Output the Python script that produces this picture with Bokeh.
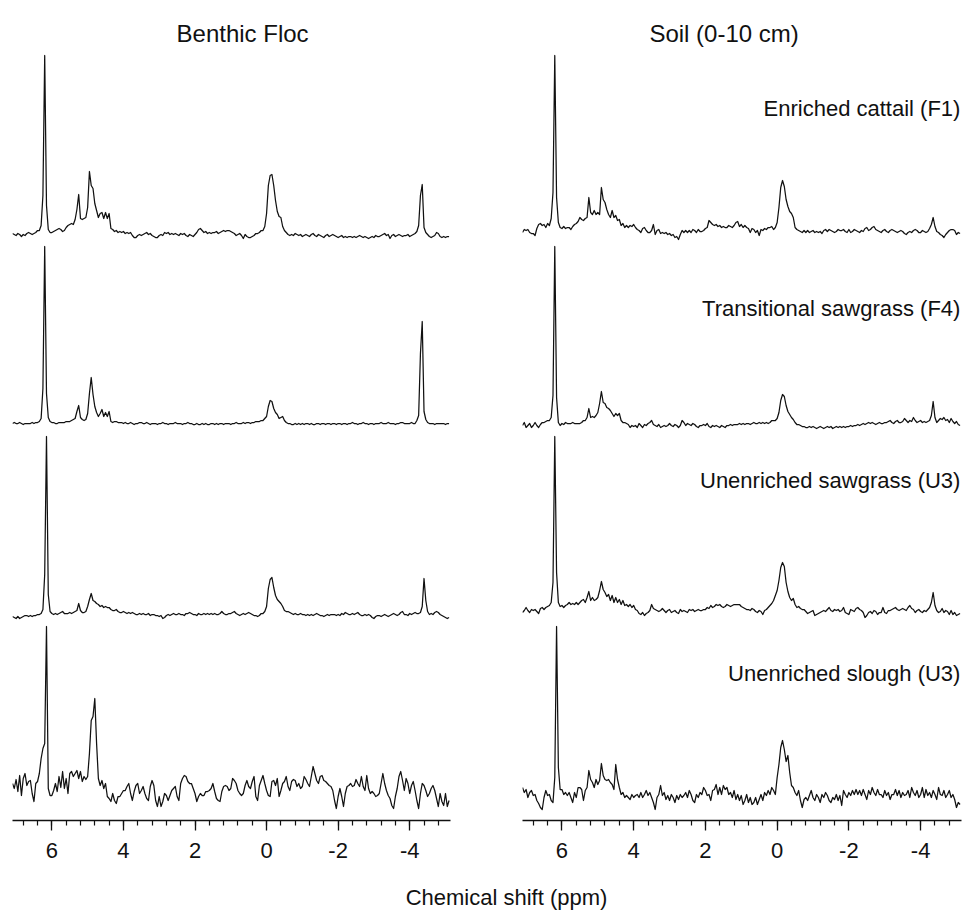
from bokeh.plotting import figure
from bokeh.layouts import row, column
from bokeh.models import Range1d, FixedTicker, Label
from bokeh.embed import file_html
from bokeh.resources import INLINE

# ---------------- data ----------------
N = 245
PPM = [round(7.10 - 0.05 * i, 2) for i in range(N)]   # sampled chemical shift axis (ppm)

TICKS = [6, 4, 2, 0, -2, -4]
TICK_LABELS = ["6", "4", "2", "0", "-2", "-4"]
MINOR_TICKS = [6.8, 6.4, 6.0, 5.6, 5.2, 4.8, 4.4, 4.0, 3.6, 3.2, 2.8, 2.4, 2.0, 1.6, 1.2,
               0.8, 0.4, 0.0, -0.4, -0.8, -1.2, -1.6, -2.0, -2.4, -2.8, -3.2, -3.6, -4.0,
               -4.4, -4.8]

COLUMN_TITLES = ["Benthic Floc", "Soil (0-10 cm)"]
SITE_LABELS = ["Enriched cattail (F1)", "Transitional sawgrass (F4)",
               "Unenriched sawgrass (U3)", "Unenriched slough (U3)"]
X_LABEL = "Chemical shift (ppm)"

# intensities (a.u.), one value per PPM sample, 7.10 -> -5.10 ppm
FLOC_F1 = [
    2, 1, 0, 2, 1, -1, 1, 0, 2, 3, 2, 1, 2, 3, 5, 5, 10, 40, 180, 30,
    6, 3, 3, 4, 5, 6, 7, 6, 4, 5, 8, 10, 11, 12, 11, 16, 26, 41, 17, 16,
    17, 18, 28, 64, 50, 47, 32, 25, 18, 22, 23, 17, 23, 17, 22, 7, 6, 4, 5, 3,
    4, 3, 4, 2, 3, 2, 3, 0, -2, -2, 0, 1, 0, 1, 2, 3, 1, 2, 0, -1,
    -2, -2, 0, 1, 0, 3, 2, 3, 1, 2, 1, 2, 1, 0, 2, 1, 2, 0, -1, 1,
    0, -1, 1, 3, 6, 7, 5, 3, 4, 2, 3, 2, 3, 3, 4, 2, 3, 4, 5, 4,
    5, 5, 4, 3, 2, 0, 1, 2, 0, -3, 1, -1, -2, -2, -1, 0, 2, 2, 3, 5,
    5, 9, 22, 50, 60, 61, 50, 35, 24, 19, 18, 9, 5, 3, 1, 0, 1, 0, 2, 1,
    0, 1, -1, 0, 1, 0, -1, 1, 2, 0, -1, 1, 0, -1, -2, 0, 1, -1, 0, 1,
    0, -1, -2, -1, 0, -2, -1, -2, -1, -1, -2, -1, -2, -1, 0, -1, -2, -1, -2, -3,
    -2, -1, -2, 0, -1, -1, 0, 1, 2, 0, 1, -3, 0, 1, -1, 0, 1, 0, -1, 0,
    0, 1, -1, 0, 1, 2, 4, 10, 40, 51, 8, 3, 1, -1, -2, -1, 0, 3, 2, -1,
    -2, -1, -2, -1, -1]

FLOC_F4 = [
    0, 1, 0, 0, 1, 0, -1, 0, 0, 0, 0, 1, 0, 1, 1, 2, 5, 35, 177, 30,
    6, 2, 1, 1, 0, 0, 1, 1, 1, 1, 2, 2, 2, 3, 4, 5, 12, 18, 6, 4,
    3, 4, 10, 30, 46, 29, 17, 11, 7, 10, 14, 7, 11, 7, 12, 2, 1, 2, 2, 1,
    1, 1, 0, 1, 0, 0, 1, 0, -1, 0, 0, 1, 1, 0, 0, 1, 0, -1, 0, 0,
    0, -1, 0, 0, 1, 0, 0, -1, 0, 0, 0, 1, 0, 0, 0, -1, 0, 0, 1, 0,
    0, -1, -1, 0, -1, -1, 0, -1, 0, -1, -1, 0, 0, -1, 0, -1, 0, 0, -1, 0,
    0, 0, -1, 0, 0, 1, 0, 0, 0, 1, 0, 1, 1, 0, 1, 1, 2, 2, 2, 3,
    3, 5, 7, 17, 23, 22, 15, 11, 9, 5, 6, 7, 3, 1, 0, 0, -1, -1, 0, -1,
    0, -1, 0, -1, 0, 0, -1, 0, -1, -1, 0, 0, -1, 0, 0, -1, 0, 0, -1, 0,
    0, -1, 0, 0, -1, 0, 0, -1, 0, 0, 1, 0, 0, -1, 0, 0, 1, 0, 0, -1,
    0, 0, -1, 0, 0, 0, 1, 0, 0, 0, 1, 0, 0, 0, -1, 0, 0, 1, 1, 0,
    0, 0, 0, 1, 0, 0, 3, 8, 70, 102, 12, 4, 1, 0, 0, 0, -1, 0, 0, 0,
    0, 0, -1, 0, 0]

FLOC_U3 = [
    -2, -3, -4, -2, -4, -3, -2, -1, -1, -2, -1, -2, -1, -1, 0, 0, 1, 5, 40, 178,
    20, 3, 1, 0, 1, 0, 1, 2, 3, 1, 1, 1, 2, 1, 2, 3, 4, 11, 4, 2,
    2, 3, 8, 15, 21, 14, 13, 11, 10, 8, 9, 7, 8, 7, 7, 5, 4, 4, 5, 3,
    2, 2, 3, 2, 1, 2, 1, 2, 1, 0, 0, 1, 0, 1, 0, 0, 1, -1, 0, 0,
    -1, -1, -2, -1, -4, -3, -1, 0, -1, 0, 1, 0, 0, 1, 0, 0, -1, 1, 1, 2,
    1, 0, 0, -1, 1, 0, 0, 1, 0, 1, 0, 1, 0, 1, 0, 0, 1, 3, 1, 0,
    0, 1, 1, 2, 3, 1, 0, -1, 0, 1, 0, 1, 2, 1, 0, -1, -1, -2, -1, 1,
    1, 3, 8, 26, 35, 37, 27, 19, 15, 13, 11, 8, 4, 3, 3, 2, 1, 0, 1, 0,
    0, 1, 0, 0, -1, 0, -1, 0, -1, 0, 1, 0, -1, -1, -2, -1, 0, -1, 0, 0,
    0, -1, 0, -1, 1, 0, 2, 1, 0, 0, 1, 0, 1, 2, 0, -1, -1, 0, -1, 0,
    -1, -3, -4, -2, -1, -1, -2, -1, 0, -1, -2, -1, 0, 1, 0, -1, 0, 2, 3, 0,
    0, -1, 1, 0, 1, 2, 1, 1, 2, 8, 36, 14, 3, 0, 1, 0, 2, 3, 2, 0,
    -1, -2, -3, -4, -3]

FLOC_SLOUGH = [
    10, 5, 14, 2, 18, -2, 15, 20, 8, 12, 13, 0, -8, 10, 12, 20, 35, 45, 50, 167,
    5, -2, -2, 3, 10, 2, 17, 6, 22, 5, 15, 0, 20, 22, 17, 20, 23, 15, 22, 12,
    17, 14, 17, 40, 73, 77, 95, 50, 15, 8, 13, 5, 10, -3, -5, -8, 0, -7, -10, -3,
    -3, 0, 3, 3, 7, 10, 0, -7, 2, 8, 10, 0, 3, 7, 0, -5, -7, 7, 13, 8,
    -7, -13, -3, -13, -8, 0, -2, -7, -2, 3, 5, 7, -3, -7, 10, 15, 18, 17, 12, 10,
    10, 5, 0, -8, -3, 0, -2, -2, 2, 2, 3, 5, 10, 2, -5, -7, -8, 2, 7, 8,
    7, 3, 5, 15, 13, 10, 3, 0, -2, 0, 8, 13, 7, 5, 12, 17, -3, -7, 8, 13,
    18, 10, 3, -2, -3, 12, 13, 8, 15, -3, 3, 10, 12, 17, 7, 3, 12, 14, 13, 7,
    10, 5, 7, 17, 14, 10, 7, 17, 27, 20, 13, 10, 17, 18, 13, 12, 10, 8, 7, 3,
    -7, -15, -3, 5, -3, -13, 0, 7, 8, 10, 7, 8, 14, 10, 7, 17, 7, 3, 18, 5,
    0, 2, 0, -3, -2, 0, 10, 20, 10, 3, -2, -5, -12, -15, -3, 5, 17, 22, 13, 3,
    15, 10, 0, 8, 12, 3, -7, -15, 0, 10, 8, 3, -3, 0, 5, 8, 3, -5, -13, 0,
    -8, -12, 0, -13, -7]

SOIL_F1 = [
    0, 3, 2, 3, 0, -1, -1, -3, 4, 8, 9, 7, 8, 5, 9, 7, 14, 40, 177, 35,
    10, 5, 4, 6, 4, 5, 5, 3, 6, 8, 9, 11, 15, 13, 12, 14, 15, 35, 20, 18,
    22, 18, 20, 18, 45, 33, 30, 23, 18, 15, 22, 15, 17, 12, 13, 7, 9, 5, 7, 5,
    7, 6, 8, 5, 3, 2, 0, 4, 5, 2, 0, 0, 2, 8, -2, 2, 3, -1, 0, -1,
    0, -2, -1, -3, -2, -5, -4, -7, -2, 2, 0, 2, 0, 2, 0, 3, 2, 0, 3, 1,
    1, 2, 4, 5, 12, 10, 8, 7, 8, 6, 7, 5, 6, 5, 5, 7, 6, 5, 7, 10,
    11, 6, 8, 5, 7, 5, 4, 0, 4, 3, 0, 2, -3, 3, 2, 4, 3, 5, 5, 6,
    3, 5, 10, 25, 45, 52, 46, 33, 26, 21, 19, 15, 5, 3, 2, 1, 0, 2, 0, 2,
    0, 1, 2, 0, 1, 0, 1, -1, 2, 3, 1, 3, 2, 1, 0, 1, 3, 2, 2, 3,
    1, 0, 3, 0, 1, 3, 2, 1, 0, 2, 1, 4, 5, 2, 3, 5, 6, 3, 2, 1,
    0, 2, 3, 1, 0, 2, 3, 2, 1, 0, 1, 2, 1, -1, -2, 0, 1, 0, 2, 3,
    2, 0, 0, 2, 1, 0, 1, 4, 8, 15, 6, 1, 0, -2, -3, -5, -2, 0, 2, 3,
    3, 2, -2, 0, -1]

SOIL_F4 = [
    0, 3, -2, 0, 2, -2, 0, 3, 0, -2, 1, 3, 3, 4, 5, 5, 8, 30, 179, 28,
    3, 0, 2, 1, 3, 2, 2, 2, 3, 2, 2, 2, 2, 3, 5, 5, 8, 17, 8, 9,
    8, 10, 13, 22, 34, 23, 22, 18, 17, 15, 12, 9, 12, 10, 12, 5, 3, 3, 2, 1,
    -2, 0, -1, 0, -2, 2, 0, -2, 1, 0, 2, 3, 5, 1, 0, -1, 1, -2, -1, 0,
    -1, 0, 2, 0, -1, 1, 0, -2, 0, 5, 3, 0, 2, 1, 0, 2, 1, -1, -2, 0,
    0, 1, 0, 2, -1, -2, 0, -1, 0, -1, -2, 0, -1, -2, 0, 0, 1, 0, 1, 1,
    1, 2, 1, 2, 1, 2, 2, 1, 2, 3, 2, 2, 3, 2, 3, 2, 3, 2, 3, 5,
    5, 5, 7, 13, 25, 31, 29, 20, 14, 11, 8, 6, 3, 1, 1, 0, -1, -1, -2, -2,
    -1, -2, -1, -2, -3, -2, -1, -2, -3, -2, -1, -2, -1, -3, -2, -1, -2, -1, -2, -1,
    -2, -1, -1, 0, -1, 0, 0, 1, 0, 1, 2, 1, 2, 3, 2, 3, 2, 1, 2, 3,
    2, 2, 3, 3, 4, 5, 3, 2, 4, 5, 3, 3, 4, 7, 5, 3, 5, 4, 8, 5,
    3, 4, 5, 3, 4, 3, 4, 5, 10, 24, 8, 3, 5, 7, 6, 8, 5, 6, 3, 7,
    4, 2, 4, 1, 0]

SOIL_U3 = [
    0, 2, 5, 2, 0, 3, 2, 3, 1, -1, 4, 5, 3, 5, 6, 7, 10, 30, 176, 40,
    10, 6, 7, 5, 7, 8, 10, 8, 9, 8, 10, 8, 10, 12, 13, 10, 15, 21, 12, 15,
    12, 13, 15, 22, 31, 23, 20, 16, 18, 12, 17, 10, 15, 10, 13, 8, 12, 7, 8, 6,
    8, 5, 7, 3, 2, -1, -2, 0, -3, -1, 0, 2, 8, 4, 3, 2, 1, 2, 4, 2,
    0, 2, 3, 0, 1, 2, 0, -1, 3, 1, 2, 1, 0, 3, 2, 3, 1, 2, 3, 2,
    2, 3, 3, 5, 4, 7, 5, 6, 8, 7, 8, 6, 5, 6, 8, 7, 6, 7, 8, 8,
    8, 8, 6, 5, 4, 3, 3, 2, 4, 3, 1, 0, 2, 1, -2, 2, 3, 5, 7, 9,
    12, 17, 22, 32, 45, 50, 46, 30, 21, 15, 12, 14, 8, 5, 6, 4, 3, 3, 1, -1,
    0, 1, 2, -3, -2, -1, 0, 1, 2, 1, 3, 5, 2, 1, 3, 2, 3, 1, 2, 5,
    0, -1, -2, 3, 2, 1, 4, 5, 3, 2, 0, -5, -3, 0, 1, -1, 2, 1, -2, 0,
    0, 5, 0, -1, 2, 2, 3, 4, 5, 3, 2, 3, 4, 3, 2, 5, 7, 4, 3, 0,
    2, 3, 1, 0, 2, 1, 3, 5, 10, 20, 7, 2, 0, 1, 4, 0, 2, 1, -2, 2,
    -2, 0, -3, -2, -1]

SOIL_SLOUGH = [
    10, 5, 8, 0, 5, 7, 2, 3, -3, -6, -10, -12, 0, 7, 2, 3, -3, -5, 20, 171,
    30, 8, 8, 3, 5, 2, 5, 0, -5, 5, 0, 10, 10, 8, -3, 7, 10, 27, 18, 15,
    10, 18, 13, 17, 34, 22, 18, 17, 18, 15, 13, 8, 33, 18, 10, 3, 5, 0, 2, 0,
    -2, 3, 0, 2, 3, 0, 5, 0, 3, 7, 2, 5, 0, -5, -12, 0, 3, 12, 2, 5,
    -2, 2, -3, 3, 0, -5, 2, -2, 3, 0, 2, 5, 0, 7, 3, -3, -5, 3, 0, 5,
    3, 10, 7, 2, 3, -3, 7, 8, 13, 3, 10, 3, 12, 8, 10, 3, 5, 0, 7, -2,
    3, -3, 2, -7, -3, 3, -5, 0, -7, -5, 0, -7, -2, 3, -3, 5, 2, 7, 3, 10,
    7, 3, 20, 33, 50, 57, 48, 36, 42, 25, 12, 10, 5, 2, 7, -3, -10, -2, 0, -3,
    2, 7, 0, -3, 3, 0, -5, 3, 0, 5, 2, -3, -5, 0, -2, 3, -3, 2, -8, 7,
    3, 0, 5, 2, 7, 3, 8, 3, 7, 2, 8, 3, -2, 7, 3, 10, 5, 2, 8, 3,
    3, 0, 7, 2, 5, -2, 3, 3, 8, 2, 7, 0, 5, 2, 3, 7, 0, 10, 5, 2,
    7, 0, 3, 10, 0, 8, 2, 5, 0, 7, 3, -2, 10, 3, 2, 7, 0, 3, 7, 0,
    3, -2, -10, -5, -7]

FLOC_SPECTRA = [FLOC_F1, FLOC_F4, FLOC_U3, FLOC_SLOUGH]
SOIL_SPECTRA = [SOIL_F1, SOIL_F4, SOIL_U3, SOIL_SLOUGH]

# ---------------- layout / style ----------------
FONT = "Liberation Sans"
INK = "#111111"
FRAME_H = 820
BOTTOM_BORDER = 52
LABEL_FIG_H = 41
FLOC_BASES = [585, 397, 206, 27]       # vertical stacking offsets of each trace
SOIL_BASES = [588, 395, 208, 23]
SITE_LABEL_Y = [712, 512, 340, 147]


def make_panel(spectra, bases, title, title_x, labels, frame_w, b_left, b_right):
    p = figure(frame_width=frame_w, frame_height=FRAME_H,
               min_border_left=b_left, min_border_right=b_right,
               min_border_top=0, min_border_bottom=BOTTOM_BORDER,
               x_range=Range1d(7.1, -5.14), y_range=Range1d(0, FRAME_H),
               y_axis_location=None, toolbar_location=None,
               output_backend="svg")
    p.outline_line_color = None
    p.grid.visible = False
    p.background_fill_color = "white"
    p.border_fill_color = "white"

    ax = p.xaxis[0]
    ax.ticker = FixedTicker(ticks=TICKS, minor_ticks=MINOR_TICKS)
    ax.major_label_overrides = {t: s for t, s in zip(TICKS, TICK_LABELS)}
    ax.axis_line_color = INK
    ax.axis_line_width = 1.3
    ax.major_tick_line_color = INK
    ax.major_tick_line_width = 1.3
    ax.minor_tick_line_color = INK
    ax.minor_tick_line_width = 1.2
    ax.major_tick_in = 0
    ax.major_tick_out = 10
    ax.minor_tick_in = 0
    ax.minor_tick_out = 5
    ax.major_label_standoff = 12
    ax.major_label_text_font = FONT
    ax.major_label_text_font_size = "22px"
    ax.major_label_text_color = INK

    bad = []
    for vals, base in zip(spectra, bases):
        n = min(len(vals), N)
        if len(vals) != N:
            bad.append(len(vals))
        ys = [base + v for v in vals[:n]]
        p.line(PPM[:n], ys, line_color=INK, line_width=1.25, line_join="round")

    p.add_layout(Label(x=title_x, y=787, text=title, text_align="center",
                       text_baseline="alphabetic", text_font=FONT,
                       text_font_size="24px", text_color=INK))
    if labels:
        for lab, ly in zip(labels, SITE_LABEL_Y):
            p.add_layout(Label(x=-5.11, y=ly, text=lab, text_align="right",
                               text_baseline="alphabetic", text_font=FONT,
                               text_font_size="22px", text_color=INK))
    if bad:
        p.add_layout(Label(x=3, y=500, text="LEN " + str(bad), text_color="red"))
    return p


left = make_panel(FLOC_SPECTRA, FLOC_BASES, COLUMN_TITLES[0], 0.67, None, 438, 12, 36)
right = make_panel(SOIL_SPECTRA, SOIL_BASES, COLUMN_TITLES[1], 1.48, SITE_LABELS, 439, 36, 7)

lab = figure(width=968, height=LABEL_FIG_H, x_range=Range1d(0, 968),
             y_range=Range1d(0, LABEL_FIG_H),
             x_axis_location=None, y_axis_location=None, toolbar_location=None,
             min_border=0, output_backend="svg")
lab.outline_line_color = None
lab.grid.visible = False
lab.add_layout(Label(x=506, y=16, text=X_LABEL, text_align="center",
                     text_baseline="alphabetic", text_font=FONT,
                     text_font_size="22px", text_color=INK))

layout = column(row(left, right), lab)
open("out.html", "w").write(file_html(layout, INLINE))
